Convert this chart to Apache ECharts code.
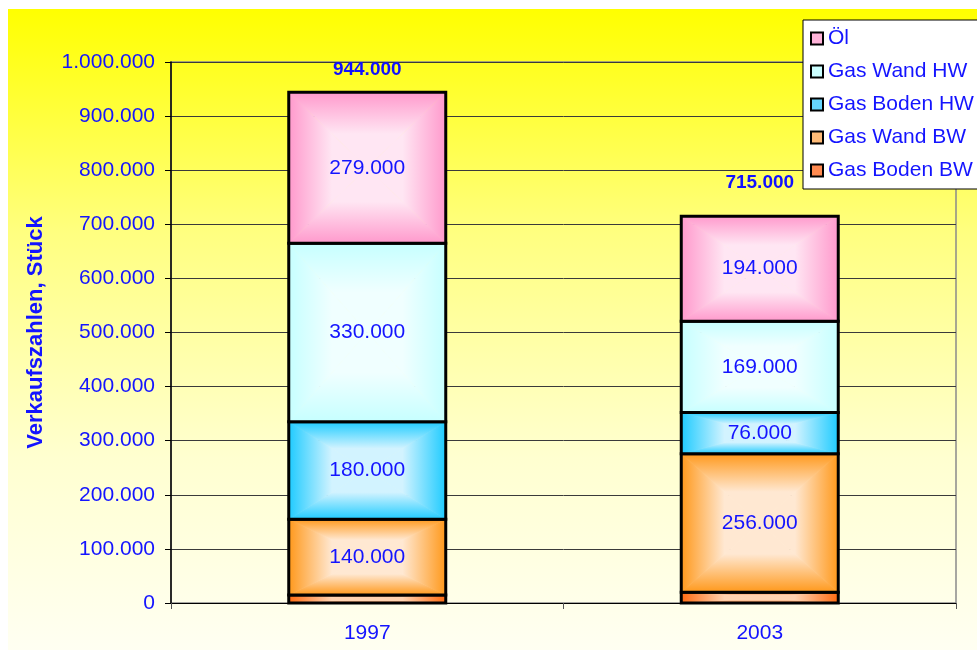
<!DOCTYPE html>
<html>
<head>
<meta charset="utf-8">
<script src="https://cdn.jsdelivr.net/npm/echarts@6/dist/echarts.min.js"></script>
<style>
  html, body { margin: 0; padding: 0; background: #fff; }
  #chart { width: 977px; height: 650px; }
</style>
</head>
<body>
<div id="chart"></div>
<script>
'use strict';

const years = ['1997', '2003'];
const gasBodenBW = [15000, 20000];
const gasWandBW = [140000, 256000];
const gasBodenHW = [180000, 76000];
const gasWandHW = [330000, 169000];
const oel = [279000, 194000];
const totals = [944000, 715000];

const BLUE = '#1414ff';
const FONT = 'Liberation Sans, Arial, sans-serif';

function fmt(v) {
    return String(Math.round(v)).replace(/\B(?=(\d{3})+(?!\d))/g, '.');
}

function lin(x, y, x2, y2, dark, light) {
    return {type: 'linear', x: x, y: y, x2: x2, y2: y2,
        colorStops: [{offset: 0, color: dark}, {offset: 0.55, color: light}, {offset: 1, color: light}]};
}

// Excel-like "from center" fill: four triangles, dark edges -> light center
function makeRender(light, dark) {
    return function (params, api) {
        const xi = api.value(0), lo = api.value(1), hi = api.value(2), v = api.value(3);
        const pLo = api.coord([xi, lo]);
        const pHi = api.coord([xi, hi]);
        const w = api.size([1, 0])[0] * 0.4;
        const x0 = pLo[0] - w / 2, x1 = pLo[0] + w / 2;
        const y0 = pHi[1], y1 = pLo[1];
        const cx = pLo[0], cy = (y0 + y1) / 2;
        const tri = (pts, g) => ({type: 'polygon', shape: {points: pts}, style: {fill: g, stroke: g, lineWidth: 0.8}});
        const children = [
            tri([[x0, y0], [x1, y0], [cx, cy]], lin(0, 0, 0, 1, dark, light)),
            tri([[x0, y1], [x1, y1], [cx, cy]], lin(0, 1, 0, 0, dark, light)),
            tri([[x0, y0], [x0, y1], [cx, cy]], lin(0, 0, 1, 0, dark, light)),
            tri([[x1, y0], [x1, y1], [cx, cy]], lin(1, 0, 0, 0, dark, light)),
            {type: 'rect', shape: {x: x0, y: y0, width: w, height: y1 - y0},
                style: {fill: null, stroke: '#000', lineWidth: 3}}
        ];
        if (v >= 50000) {
            children.push({type: 'text', x: cx, y: cy,
                style: {text: fmt(v), fill: BLUE, fontSize: 21, fontFamily: FONT,
                    align: 'center', verticalAlign: 'middle'}});
        }
        return {type: 'group', children: children};
    };
}

const segments = [
    {name: 'Gas Boden BW', values: gasBodenBW, light: '#ffd2b0', dark: '#ff6a10'},
    {name: 'Gas Wand BW', values: gasWandBW, light: '#ffe8d2', dark: '#ff981a'},
    {name: 'Gas Boden HW', values: gasBodenHW, light: '#d2f3ff', dark: '#1ecbff'},
    {name: 'Gas Wand HW', values: gasWandHW, light: '#f0ffff', dark: '#c6ffff'},
    {name: 'Öl', values: oel, light: '#ffe6f3', dark: '#ff99cc'}
];

const base = years.map(() => 0);
const stackSeries = segments.map(s => {
    const data = s.values.map((v, i) => {
        const row = [i, base[i], base[i] + v, v];
        base[i] += v;
        return row;
    });
    return {
        name: s.name, type: 'custom', z: 3,
        renderItem: makeRender(s.light, s.dark),
        encode: {x: 0, y: [1, 2]},
        itemStyle: {color: s.dark},
        data: data
    };
});

const legendColors = {
    'Öl': '#ffb3d9',
    'Gas Wand HW': '#ccffff',
    'Gas Boden HW': '#66d6ff',
    'Gas Wand BW': '#ffbb77',
    'Gas Boden BW': '#ff8a50'
};

const chart = echarts.init(document.getElementById('chart'));

const option = {
    animation: false,
    textStyle: {fontFamily: FONT},
    graphic: [{
        type: 'rect', z: -100, silent: true,
        shape: {x: 8, y: 9, width: 969, height: 641},
        style: {
            fill: {
                type: 'linear', x: 0, y: 0, x2: 0, y2: 1,
                colorStops: [
                    {offset: 0, color: '#ffff00'},
                    {offset: 0.35, color: '#ffff80'},
                    {offset: 0.7, color: '#ffffd0'},
                    {offset: 1, color: '#fffff2'}
                ]
            }
        }
    }],
    grid: {
        left: 171, right: 21, top: 62, bottom: 47,
        show: true, borderColor: '#8a8a8a', borderWidth: 1.5, backgroundColor: 'transparent'
    },
    legend: {
        orient: 'vertical', left: 803, top: 20,
        backgroundColor: '#fff', borderColor: '#000', borderWidth: 1,
        padding: [8, 30, 8, 7],
        itemWidth: 12, itemHeight: 12, itemGap: 12,
        icon: 'rect',
        textStyle: {color: BLUE, fontSize: 21, fontFamily: FONT},
        data: Object.keys(legendColors).map(n => ({
            name: n,
            itemStyle: {color: legendColors[n], borderColor: '#000', borderWidth: 2}
        }))
    },
    xAxis: {
        type: 'category', data: years,
        axisLine: {lineStyle: {color: '#000', width: 1}},
        axisTick: {show: true, length: 6, lineStyle: {color: '#555'}},
        axisLabel: {color: BLUE, fontSize: 21, fontFamily: FONT, margin: 20}
    },
    yAxis: {
        type: 'value', min: 0, max: 1000000, interval: 100000,
        name: 'Verkaufszahlen, Stück', nameLocation: 'middle', nameGap: 124,
        nameTextStyle: {color: BLUE, fontSize: 22, fontWeight: 'bold', fontFamily: FONT},
        axisLine: {show: true, lineStyle: {color: '#000', width: 1.5}},
        axisTick: {show: true, length: 6, lineStyle: {color: '#000'}},
        axisLabel: {color: BLUE, fontSize: 21, fontFamily: FONT, margin: 16, formatter: v => fmt(v)},
        splitLine: {lineStyle: {color: '#3a3a3a', width: 1}}
    },
    series: stackSeries.concat([{
        name: 'Summe', type: 'scatter', symbolSize: 0, z: 10,
        itemStyle: {opacity: 1},
        data: totals.map((t, i) => ({
            value: [i, t],
            label: {distance: i === 0 ? 13 : 24}
        })),
        label: {
            show: true, position: 'top', color: '#1010ff', fontSize: 19, fontWeight: 'bold',
            fontFamily: FONT, formatter: p => fmt(p.value[1])
        }
    }])
};

chart.setOption(option);
</script>
</body>
</html>
